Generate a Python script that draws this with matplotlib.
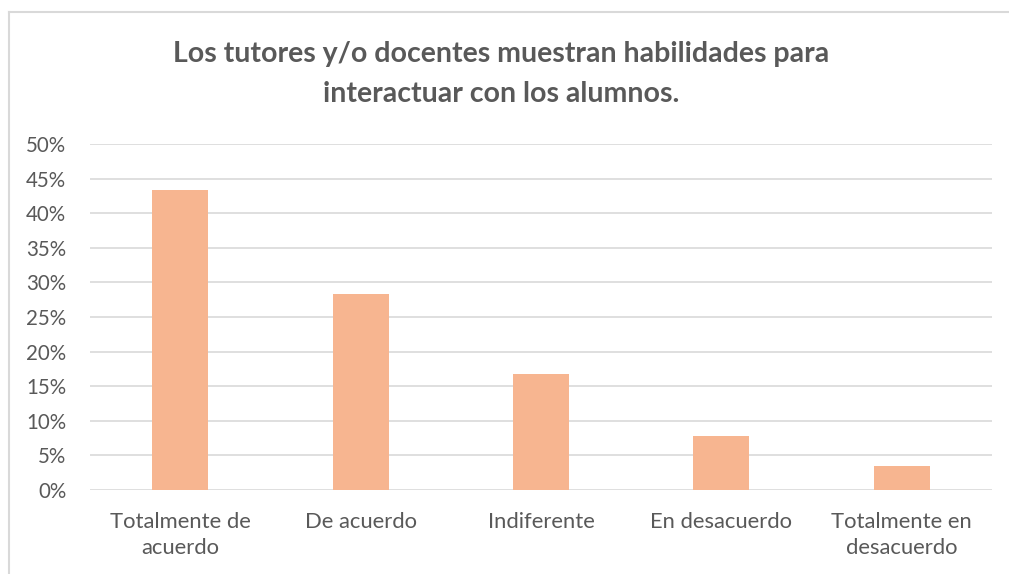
import matplotlib.pyplot as plt
from matplotlib.ticker import PercentFormatter
from matplotlib.lines import Line2D

# datos
categorias = ['Totalmente de\nacuerdo', 'De acuerdo', 'Indiferente',
              'En desacuerdo', 'Totalmente en\ndesacuerdo']
valores = [0.434, 0.283, 0.167, 0.078, 0.034]
titulo = 'Los tutores y/o docentes muestran habilidades para\ninteractuar con los alumnos.'

plt.rcParams['font.family'] = ['Lato', 'DejaVu Sans']
gris_texto = '#595959'
gris_linea = '#d9d9d9'

W, H = 1009, 574
fig = plt.figure(figsize=(W / 100, H / 100), dpi=100)
ax = fig.add_axes([90 / W, (H - 490) / H, (992 - 90) / W, (490 - 144) / H])

x = range(len(categorias))
ax.bar(x, valores, width=0.31, color='#F7B590', zorder=3)

ax.set_xlim(-0.5, len(categorias) - 0.5)
ax.set_ylim(0, 0.5)
ax.set_yticks([i / 100 for i in range(0, 51, 5)])
ax.yaxis.set_major_formatter(PercentFormatter(1.0, decimals=0))
ax.set_xticks(list(x))
ax.set_xticklabels(categorias, linespacing=1.38, fontsize=15.8)

ax.grid(axis='y', color=gris_linea, linewidth=1.2, zorder=0)
for s in ax.spines.values():
    s.set_visible(False)
ax.tick_params(axis='both', length=0, colors=gris_texto)
ax.tick_params(axis='y', pad=17, labelsize=14.8)
ax.tick_params(axis='x', pad=16)

# borde del gráfico (arriba e izquierda)
fig.add_artist(Line2D([9 / W, 9 / W], [0, (H - 12) / H], color=gris_linea,
                      linewidth=1.5, transform=fig.transFigure))
fig.add_artist(Line2D([9 / W, 1], [(H - 12) / H, (H - 12) / H], color=gris_linea,
                      linewidth=1.5, transform=fig.transFigure))

fig.text(501 / W, (H - 74) / H, titulo, ha='center', va='center',
         fontsize=20.5, fontweight='bold', color=gris_texto, linespacing=1.62)

fig.savefig('out.png', dpi=100, facecolor='white')
